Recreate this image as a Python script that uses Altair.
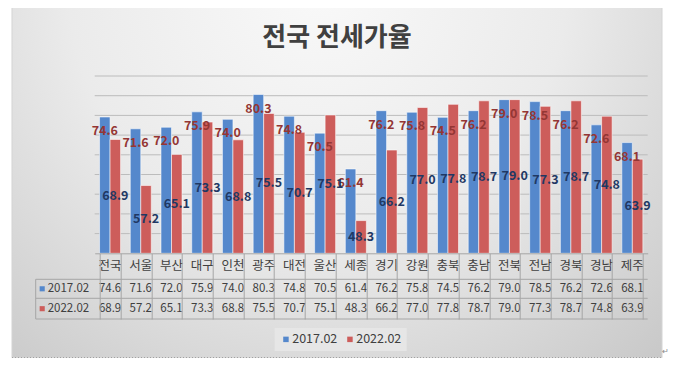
import altair as alt
import pandas as pd

categories = ["전국", "서울", "부산", "대구", "인천", "광주", "대전", "울산", "세종",
              "경기", "강원", "충북", "충남", "전북", "전남", "경북", "경남", "제주"]
series = ["2017.02", "2022.02"]
v2017 = [74.6, 71.6, 72.0, 75.9, 74.0, 80.3, 74.8, 70.5, 61.4,
         76.2, 75.8, 74.5, 76.2, 79.0, 78.5, 76.2, 72.6, 68.1]
v2022 = [68.9, 57.2, 65.1, 73.3, 68.8, 75.5, 70.7, 75.1, 48.3,
         66.2, 77.0, 77.8, 78.7, 79.0, 77.3, 78.7, 74.8, 63.9]
y_ticks = [45, 50, 55, 60, 65, 70, 75, 80, 85]
title_text = "전국 전세가율"

bar_colors = ["#5588cc", "#cd5d5b"]
label_colors = ["#943634", "#1f3864"]
FONT = "Noto Sans CJK KR"
TXT = "#404040"
LINE = "#a6a6a6"

rows = []
for i, c in enumerate(categories):
    rows.append({"cat": c, "series": series[0], "value": v2017[i], "label": f"{v2017[i]:.1f}"})
    rows.append({"cat": c, "series": series[1], "value": v2022[i], "label": f"{v2022[i]:.1f}"})
df = pd.DataFrame(rows)
sdf = pd.DataFrame({"series": series})
tdf = pd.DataFrame({"tick": y_ticks})
one = pd.DataFrame({"a": [0]})

W, H = 553, 177.3

xscale = alt.Scale(domain=categories, paddingInner=0.316, paddingOuter=0.158)
xoff = alt.XOffset("series:N", scale=alt.Scale(domain=series, paddingInner=0, paddingOuter=0))
yscale = alt.Scale(domain=[40, 85], nice=False, zero=False)
cscale = alt.Scale(domain=series, range=bar_colors)

bg = alt.Chart(one).mark_rect(
    color=alt.Gradient(
        gradient="radial",
        stops=[alt.GradientStop(color="#f9f9f9", offset=0),
               alt.GradientStop(color="#ebebeb", offset=0.45),
               alt.GradientStop(color="#c2c2c2", offset=1)],
        x1=0.47, y1=0.2, r1=0, x2=0.47, y2=0.2, r2=0.85),
    stroke="#d4d4d4", strokeWidth=1
).encode(x=alt.value(-82.7), x2=alt.value(567.3), y=alt.value(-71), y2=alt.value(281.7))

grid = alt.Chart(tdf).mark_rule(color="#bcbcbc", strokeWidth=1).encode(
    y=alt.Y("tick:Q", scale=yscale), x=alt.value(0), x2=alt.value(W))

title = alt.Chart(one).mark_text(
    font=FONT, fontSize=26, fontWeight="bold", color=TXT, align="center", baseline="middle"
).encode(x=alt.value(242.3), y=alt.value(-38.5), text=alt.value(title_text))

bars = alt.Chart(df).mark_bar(stroke="white", strokeOpacity=0.55, strokeWidth=1).encode(
    x=alt.X("cat:N", sort=categories, scale=xscale, title=None,
            axis=alt.Axis(labels=False, tickBand="extent", tickSize=65.7, tickColor=LINE,
                          domainColor=LINE, domain=True, grid=False, orient="bottom", zindex=1)),
    xOffset=xoff,
    y=alt.Y("value:Q", scale=yscale, title=None,
            axis=alt.Axis(values=y_ticks, labels=False, ticks=False, domain=False, grid=False)),
    y2=alt.datum(40),
    color=alt.Color("series:N", scale=cscale,
                    legend=alt.Legend(orient="none", legendX=180, legendY=252, direction="horizontal",
                                      title=None, symbolType="square", symbolSize=30,
                                      symbolStrokeWidth=0, labelFontSize=12.5, labelFont=FONT,
                                      labelColor=TXT, fillColor="#e6e6e6", padding=5,
                                      columnPadding=6, labelOffset=0)),
)

lab17 = alt.Chart(df).transform_filter(alt.datum.series == series[0]).mark_text(
    font=FONT, fontSize=12.5, fontWeight="bold", color=label_colors[0], baseline="middle", dy=14
).encode(x=alt.X("cat:N", sort=categories, scale=xscale), xOffset=xoff,
         y=alt.Y("value:Q", scale=yscale), text="label:N")

lab22 = alt.Chart(df).transform_filter(alt.datum.series == series[1]).transform_calculate(
    mid="(datum.value + 40) / 2"
).mark_text(
    font=FONT, fontSize=12.5, fontWeight="bold", color=label_colors[1], baseline="middle"
).encode(x=alt.X("cat:N", sort=categories, scale=xscale), xOffset=xoff,
         y=alt.Y("mid:Q", scale=yscale), text="label:N")

# data table
catrow = alt.Chart(pd.DataFrame({"cat": categories})).mark_text(
    font=FONT, fontSize=12.5, color=TXT, baseline="middle"
).encode(x=alt.X("cat:N", sort=categories, scale=xscale), y=alt.value(190.3), text="cat:N")

row_y = [212.8, 232.7]
tab_layers = []
for s, yy in zip(series, row_y):
    tab_layers.append(alt.Chart(df).transform_filter(alt.datum.series == s).mark_text(
        font=FONT, fontSize=11.5, color=TXT, baseline="middle"
    ).encode(x=alt.X("cat:N", sort=categories, scale=xscale), y=alt.value(yy), text="label:N"))
    tab_layers.append(alt.Chart(sdf).transform_filter(alt.datum.series == s).mark_square(
        size=26, opacity=1
    ).encode(x=alt.value(-52.5), y=alt.value(yy), color=alt.Color("series:N", scale=cscale, legend=None)))
    tab_layers.append(alt.Chart(sdf).transform_filter(alt.datum.series == s).mark_text(
        font=FONT, fontSize=11.5, color=TXT, align="left", baseline="middle"
    ).encode(x=alt.value(-47), y=alt.value(yy), text="series:N"))

hlines = []
for yy in [203.3, 222.3, 243.0]:
    hlines.append(alt.Chart(one).mark_rule(color=LINE, strokeWidth=1).encode(
        x=alt.value(-59), x2=alt.value(W), y=alt.value(yy)))
vline = alt.Chart(one).mark_rule(color=LINE, strokeWidth=1).encode(
    x=alt.value(-59), y=alt.value(203.3), y2=alt.value(243.0))

dotted = alt.Chart(one).mark_rule(color="#8a8a8a", strokeWidth=1, strokeDash=[1, 2]).encode(
    x=alt.value(-82.7), x2=alt.value(567.3), y=alt.value(281.8))
para = alt.Chart(one).mark_text(fontSize=8, color="#888888").encode(
    x=alt.value(571), y=alt.value(276), text=alt.value("↵"))

chart = alt.layer(
    bg, grid, title, bars, lab17, lab22, catrow, *tab_layers, *hlines, vline, dotted, para
).properties(
    width=W, height=H,
    autosize=alt.AutoSizeParams(type="none"),
    padding={"left": 86.7, "top": 68, "right": 24.3, "bottom": 104.7},
    background="white",
).configure_view(strokeWidth=0)

chart.save("out.html", embed_options={"renderer": "svg", "actions": False})
